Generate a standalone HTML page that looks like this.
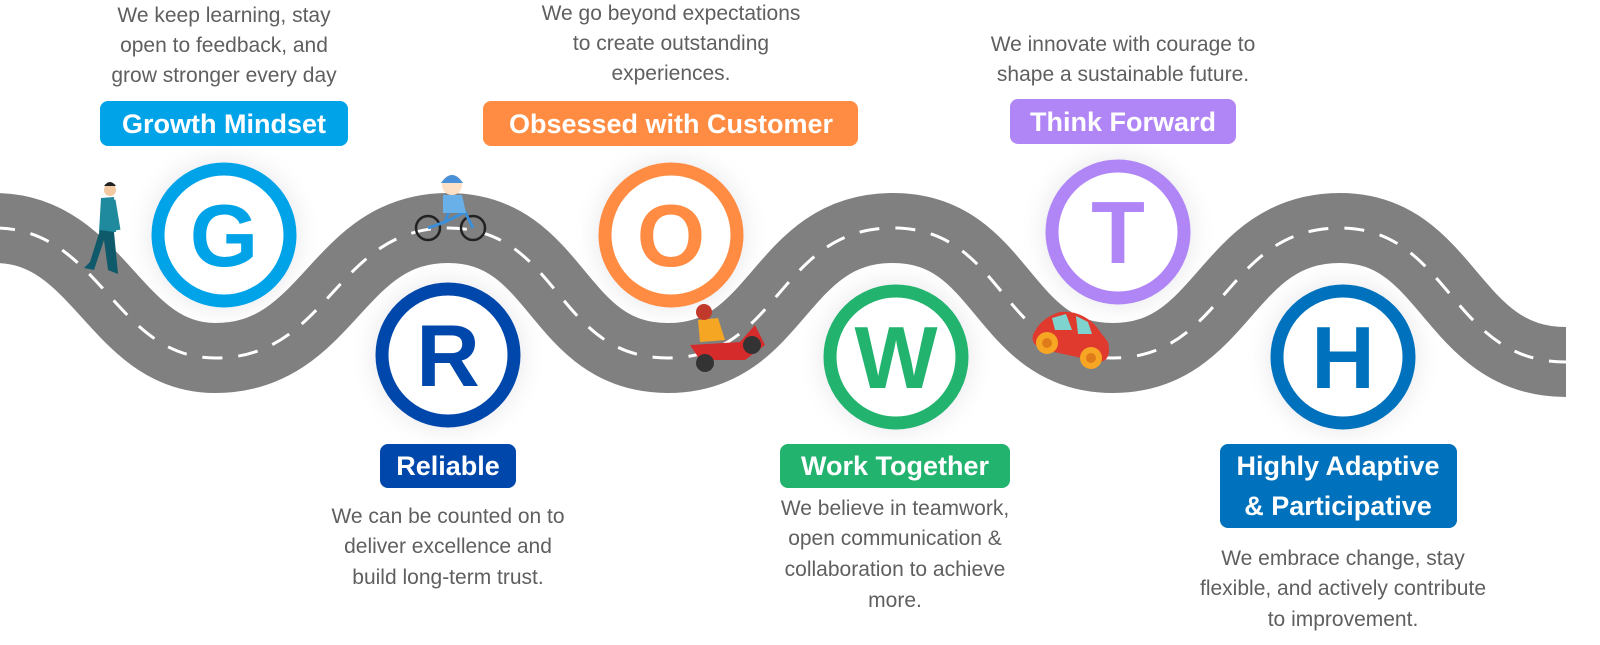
<!DOCTYPE html>
<html><head><meta charset="utf-8"><style>
html,body{margin:0;padding:0;background:#fff;}
svg{display:block;}
.d{font-family:"Liberation Sans",sans-serif;font-size:21px;fill:#5f5f5f;text-anchor:middle;}
.l{font-family:"Liberation Sans",sans-serif;font-size:27px;font-weight:bold;fill:#fff;text-anchor:middle;}
.c{font-family:"Liberation Sans",sans-serif;font-size:88px;font-weight:bold;text-anchor:middle;}
</style></head><body>
<svg width="1600" height="645" viewBox="0 0 1600 645" xmlns="http://www.w3.org/2000/svg">
<defs>
<radialGradient id="sh"><stop offset="0.6" stop-color="#e6e6ea"/><stop offset="1" stop-color="#fff" stop-opacity="0"/></radialGradient>
</defs>
<g fill="url(#sh)">
<circle cx="224" cy="235" r="100"/><circle cx="448" cy="355" r="100"/><circle cx="671" cy="235" r="100"/>
<circle cx="896" cy="357" r="100"/><circle cx="1118" cy="232" r="100"/><circle cx="1343" cy="357" r="100"/>
</g>
<path d="M -5,228 C 100,228 115,358 215,358 C 330,358 335,228 448,228 C 560,228 555,358 668,358 C 780,358 778,228 893,228 C 1005,228 1000,358 1113,358 C 1225,358 1225,228 1340,228 C 1450,228 1450,362 1566,362" fill="none" stroke="#808080" stroke-width="70"/>
<path d="M -5,228 C 100,228 115,358 215,358 C 330,358 335,228 448,228 C 560,228 555,358 668,358 C 780,358 778,228 893,228 C 1005,228 1000,358 1113,358 C 1225,358 1225,228 1340,228 C 1450,228 1450,362 1566,362" fill="none" stroke="#fff" stroke-width="3" stroke-dasharray="20 16"/>
<g stroke-width="13" fill="#fff">
<circle cx="224" cy="235" r="66" stroke="#00a3e8"/>
<circle cx="448" cy="355" r="66" stroke="#0047ab"/>
<circle cx="671" cy="235" r="66" stroke="#ff8c42"/>
<circle cx="896" cy="357" r="66" stroke="#22b36f"/>
<circle cx="1118" cy="232" r="66" stroke="#b085f5"/>
<circle cx="1343" cy="357" r="66" stroke="#0071bc"/>
</g>
<text class="c" x="224" y="266" fill="#00a3e8">G</text>
<text class="c" x="448" y="386" fill="#0047ab">R</text>
<text class="c" x="671" y="266" fill="#ff8c42">O</text>
<text class="c" x="896" y="388" fill="#22b36f">W</text>
<text class="c" x="1118" y="263" fill="#b085f5">T</text>
<text class="c" x="1343" y="388" fill="#0071bc">H</text>
<rect x="100" y="101" width="248" height="45" rx="8" fill="#00a3e8"/><text class="l" x="224" y="133">Growth Mindset</text>
<rect x="483" y="101" width="375" height="45" rx="8" fill="#ff8c42"/><text class="l" x="671" y="133">Obsessed with Customer</text>
<rect x="1010" y="99" width="226" height="45" rx="8" fill="#b085f5"/><text class="l" x="1123" y="131">Think Forward</text>
<rect x="380" y="444" width="136" height="44" rx="8" fill="#0047ab"/><text class="l" x="448" y="475">Reliable</text>
<rect x="780" y="444" width="230" height="44" rx="8" fill="#22b36f"/><text class="l" x="895" y="475">Work Together</text>
<rect x="1220" y="444" width="237" height="84" rx="8" fill="#0071bc"/><text class="l" x="1338" y="475">Highly Adaptive</text><text class="l" x="1338" y="515">&amp; Participative</text>
<text class="d" x="224" y="22">We keep learning, stay</text><text class="d" x="224" y="52">open to feedback, and</text><text class="d" x="224" y="82">grow stronger every day</text>
<text class="d" x="671" y="20">We go beyond expectations</text><text class="d" x="671" y="50">to create outstanding</text><text class="d" x="671" y="80">experiences.</text>
<text class="d" x="1123" y="51">We innovate with courage to</text><text class="d" x="1123" y="81">shape a sustainable future.</text>
<text class="d" x="448" y="523">We can be counted on to</text><text class="d" x="448" y="553">deliver excellence and</text><text class="d" x="448" y="584">build long-term trust.</text>
<text class="d" x="895" y="515">We believe in teamwork,</text><text class="d" x="895" y="545">open communication &amp;</text><text class="d" x="895" y="576">collaboration to achieve</text><text class="d" x="895" y="607">more.</text>
<text class="d" x="1343" y="565">We embrace change, stay</text><text class="d" x="1343" y="595">flexible, and actively contribute</text><text class="d" x="1343" y="626">to improvement.</text>
<g>
<circle cx="110" cy="190" r="6" fill="#f2c9a0"/><path d="M104,186 q6,-8 12,0" fill="#222"/>
<path d="M101,198 L114,197 L116,232 L99,232 Z" fill="#1f8a9e"/>
<path d="M100,230 L90,262 L84,268 L94,270 L104,240 L108,270 L118,274 L114,232 Z" fill="#0e5a6a"/>
<path d="M113,200 L118,230" stroke="#1f8a9e" stroke-width="5"/>
</g>
<g>
<circle cx="428" cy="228" r="12" fill="none" stroke="#222" stroke-width="2.5"/>
<circle cx="473" cy="228" r="12" fill="none" stroke="#222" stroke-width="2.5"/>
<path d="M428,228 L445,222 L465,212 L473,228 M445,222 L450,208" stroke="#3b8fd9" stroke-width="3" fill="none"/>
<path d="M443,195 L462,195 L466,213 L443,213 Z" fill="#6ab0e8"/>
<circle cx="452" cy="185" r="10" fill="#fde0c5"/>
<path d="M441,183 q11,-16 22,0 Z" fill="#4a90d9"/>
</g>
<g>
<path d="M690,345 L740,342 L755,325 L765,345 L745,360 L700,360 Z" fill="#d62b2b"/>
<circle cx="705" cy="363" r="9" fill="#333"/><circle cx="752" cy="345" r="9" fill="#333"/>
<path d="M698,320 L718,318 L725,340 L700,342 Z" fill="#f5a623"/>
<circle cx="704" cy="312" r="8" fill="#c0392b"/>
</g>
<g>
<path d="M1033,335 Q1040,318 1060,312 Q1080,310 1095,325 L1108,342 Q1112,360 1100,362 L1045,350 Q1030,345 1033,335 Z" fill="#e03a2e"/>
<path d="M1052,318 L1066,314 L1072,330 L1055,330 Z M1076,316 L1088,322 L1092,334 L1078,334 Z" fill="#7fd3cf"/>
<circle cx="1047" cy="343" r="11" fill="#f6a623"/><circle cx="1047" cy="343" r="5" fill="#e07b1a"/>
<circle cx="1091" cy="358" r="11" fill="#f6a623"/><circle cx="1091" cy="358" r="5" fill="#e07b1a"/>
</g>
</svg>
</body></html>
